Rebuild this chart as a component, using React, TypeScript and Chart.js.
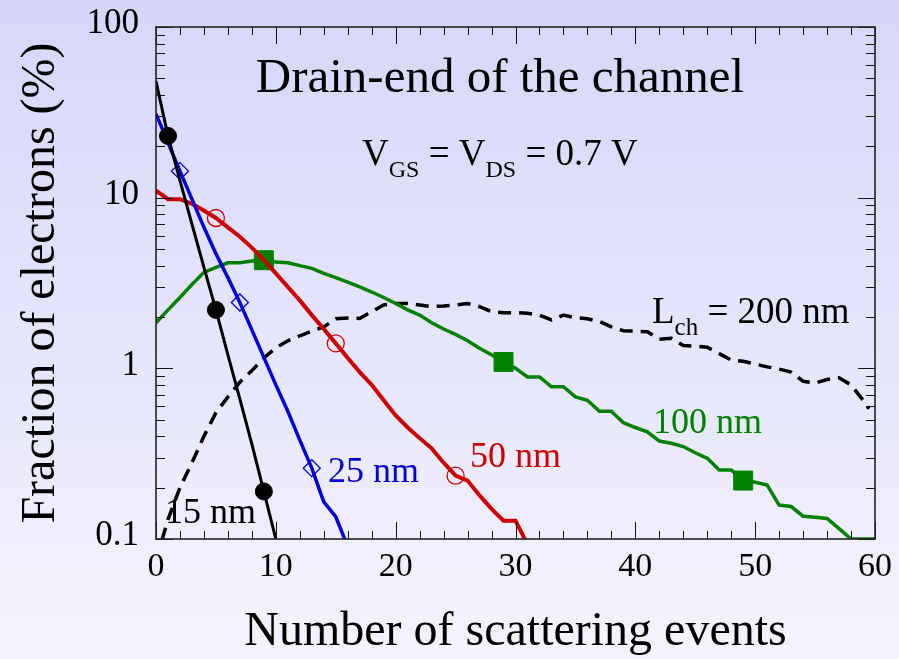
import React, { useEffect, useRef } from "react";
import { Chart, registerables } from "chart.js";

Chart.register(...registerables);

const SERIF = "'Liberation Serif', 'Times New Roman', serif";

// Fraction of electrons (%) versus number of scattering events, per channel length
const len15X = [0, 1, 2, 3, 4, 5, 6, 7, 8, 9, 10];
const len15Y = [48, 23, 12.6, 7.0, 3.9, 2.2, 1.2, 0.66, 0.36, 0.19, 0.1];
const len15Marks = [1, 5, 9];

const len25X = [0, 1, 2, 3, 4, 5, 6, 7, 8, 9, 10, 11, 12, 13, 14, 15, 16];
const len25Y = [31, 21, 14.3, 9.8, 6.7, 4.7, 3.4, 2.43, 1.68, 1.16, 0.8, 0.56, 0.38, 0.26, 0.165, 0.135, 0.09];
const len25Marks = [2, 7, 13];

const len50X = [0, 1, 2, 3, 4, 5, 6, 7, 8, 9, 10, 11, 12, 13, 14, 15, 16, 17, 18, 19, 20, 21, 22, 23, 24, 25, 26, 27, 28, 29, 30, 31];
const len50Y = [11, 9.8, 9.8, 9.2, 8.4, 7.6, 6.7, 5.9, 5.1, 4.3, 3.6, 3.0, 2.5, 2.05, 1.7, 1.4, 1.15, 0.95, 0.8, 0.65, 0.53, 0.45, 0.39, 0.34, 0.28, 0.235, 0.22, 0.18, 0.15, 0.128, 0.128, 0.093];
const len50Marks = [5, 15, 25];

const len100X = [0, 1, 2, 3, 4, 5, 6, 7, 8, 9, 10, 11, 12, 13, 14, 15, 16, 17, 18, 19, 20, 21, 22, 23, 24, 25, 26, 27, 28, 29, 30, 31, 32, 33, 34, 35, 36, 37, 38, 39, 40, 41, 42, 43, 44, 45, 46, 47, 48, 49, 50, 51, 52, 53, 54, 55, 56, 57, 58, 59, 60];
const len100Y = [1.85, 2.2, 2.6, 3.1, 3.65, 3.9, 4.15, 4.15, 4.25, 4.3, 4.2, 4.15, 4.0, 3.85, 3.6, 3.4, 3.2, 3.0, 2.8, 2.6, 2.4, 2.2, 2.05, 1.85, 1.7, 1.58, 1.45, 1.31, 1.2, 1.09, 1.0, 0.89, 0.89, 0.78, 0.78, 0.68, 0.65, 0.56, 0.56, 0.48, 0.45, 0.425, 0.375, 0.364, 0.348, 0.32, 0.297, 0.254, 0.254, 0.22, 0.215, 0.207, 0.158, 0.155, 0.136, 0.134, 0.132, 0.115, 0.1, 0.1, 0.1];
const len100Marks = [9, 29, 49];

const len200X = [0, 1, 2, 3, 4, 5, 6, 7, 8, 9, 10, 11, 12, 13, 14, 15, 16, 17, 18, 19, 20, 21, 22, 23, 24, 25, 26, 27, 28, 29, 30, 31, 32, 33, 34, 35, 36, 37, 38, 39, 40, 41, 42, 43, 44, 45, 46, 47, 48, 49, 50, 51, 52, 53, 54, 55, 56, 57, 58, 59, 59.5];
const len200Y = [0.075, 0.13, 0.2, 0.28, 0.4, 0.55, 0.68, 0.83, 0.97, 1.15, 1.32, 1.45, 1.55, 1.65, 1.75, 1.95, 1.97, 1.96, 2.15, 2.35, 2.4, 2.4, 2.35, 2.3, 2.32, 2.35, 2.4, 2.3, 2.15, 2.12, 2.12, 2.1, 2.05, 1.92, 2.05, 1.98, 1.95, 1.88, 1.75, 1.66, 1.65, 1.64, 1.48, 1.5, 1.36, 1.35, 1.33, 1.22, 1.12, 1.1, 1.06, 1.02, 0.99, 0.95, 0.84, 0.82, 0.86, 0.88, 0.8, 0.65, 0.58];

const xTickValues = [0, 10, 20, 30, 40, 50, 60];
const yTickValues = [0.1, 1, 10, 100];
const yTickLabels = ["0.1", "1", "10", "100"];

const BLACK = "#000000";
const BLUE = "#0000d8";
const RED = "#cc0000";
const GREEN = "#008000";

function series(
  xs: number[],
  ys: number[],
  color: string,
  width: number,
  marks: number[],
  style: string,
  radius: number,
  filled: boolean,
  dash: number[] = []
) {
  return {
    data: xs.map((x, i) => ({ x, y: ys[i] })),
    borderColor: color,
    borderWidth: width,
    borderDash: dash,
    tension: 0,
    fill: false,
    pointStyle: style,
    pointRadius: (c: any) => (c.raw && marks.includes(c.raw.x) ? radius : 0),
    pointHoverRadius: 0,
    pointBackgroundColor: filled ? color : "rgba(0,0,0,0)",
    pointBorderColor: color,
    pointBorderWidth: filled ? 1 : 1.3,
  };
}

function drawSub(
  ctx: CanvasRenderingContext2D,
  parts: { t: string; sub?: boolean }[],
  x: number,
  y: number,
  size: number,
  subSize: number,
  subDrop: number,
  color: string
) {
  ctx.fillStyle = color;
  ctx.textAlign = "left";
  ctx.textBaseline = "alphabetic";
  let cx = x;
  for (const p of parts) {
    ctx.font = `${p.sub ? subSize : size}px ${SERIF}`;
    ctx.fillText(p.t, cx, p.sub ? y + subDrop : y);
    cx += ctx.measureText(p.t).width;
  }
}

const decorations = {
  id: "decorations",
  beforeDraw(chart: any) {
    const { ctx, width, height } = chart;
    const g = ctx.createLinearGradient(0, 0, 0, height);
    g.addColorStop(0, "#d6d6fa");
    g.addColorStop(1, "#f4f4fe");
    ctx.save();
    ctx.fillStyle = g;
    ctx.fillRect(0, 0, width, height);
    ctx.restore();
  },
  beforeDatasetsDraw(chart: any) {
    const ctx: CanvasRenderingContext2D = chart.ctx;
    ctx.save();
    ctx.fillStyle = BLACK;
    ctx.font = `49px ${SERIF}`;
    ctx.textAlign = "center";
    ctx.textBaseline = "alphabetic";
    ctx.fillText("Drain-end of the channel", 500, 92);
    drawSub(
      ctx,
      [{ t: "V" }, { t: "GS", sub: true }, { t: " = V" }, { t: "DS", sub: true }, { t: " = 0.7 V" }],
      362, 165, 37, 24, 12, BLACK
    );
    drawSub(ctx, [{ t: "L" }, { t: "ch", sub: true }, { t: " = 200 nm" }], 652, 323, 37, 25, 12, BLACK);
    drawSub(ctx, [{ t: "100 nm" }], 653, 433, 36, 24, 0, GREEN);
    drawSub(ctx, [{ t: "50 nm" }], 470, 467, 36, 24, 0, RED);
    drawSub(ctx, [{ t: "25 nm" }], 328, 482, 36, 24, 0, BLUE);
    drawSub(ctx, [{ t: "15 nm" }], 165, 523, 36, 24, 0, BLACK);
    ctx.restore();
  },
  afterDatasetsDraw(chart: any) {
    const ctx: CanvasRenderingContext2D = chart.ctx;
    const { left, right, top, bottom } = chart.chartArea;
    const xs = chart.scales.x;
    const ys = chart.scales.y;
    ctx.save();
    ctx.strokeStyle = "#111";
    ctx.lineWidth = 1;
    ctx.beginPath();
    for (let v = 0; v <= 60; v += 2) {
      const px = Math.round(xs.getPixelForValue(v)) + 0.5;
      const len = v % 10 === 0 ? 17 : 8;
      ctx.moveTo(px, bottom);
      ctx.lineTo(px, bottom - len);
      ctx.moveTo(px, top);
      ctx.lineTo(px, top + len);
    }
    for (let d = -1; d <= 2; d++) {
      for (let k = 1; k <= 9; k++) {
        const v = k * Math.pow(10, d);
        if (v > 100.0001) break;
        const py = Math.round(ys.getPixelForValue(v)) + 0.5;
        const len = k === 1 ? 17 : 9;
        ctx.moveTo(left, py);
        ctx.lineTo(left + len, py);
        ctx.moveTo(right, py);
        ctx.lineTo(right - len, py);
      }
    }
    ctx.stroke();
    ctx.strokeStyle = "#222";
    ctx.lineWidth = 1.6;
    ctx.strokeRect(left, top, right - left, bottom - top);
    ctx.restore();
  },
};

export default function App() {
  const canvasRef = useRef<HTMLCanvasElement | null>(null);

  useEffect(() => {
    if (!canvasRef.current) return;
    const chart = new Chart(canvasRef.current, {
      type: "line",
      data: {
        datasets: [
          series(len15X, len15Y, BLACK, 3, len15Marks, "circle", 8.5, true),
          series(len25X, len25Y, BLUE, 3.5, len25Marks, "rectRot", 8.5, false),
          series(len50X, len50Y, RED, 4, len50Marks, "circle", 8.5, false),
          series(len100X, len100Y, GREEN, 3.5, len100Marks, "rect", 13.4, true),
          series(len200X, len200Y, BLACK, 3.5, [], "circle", 0, true, [13, 8]),
        ] as any,
      },
      options: {
        animation: false,
        responsive: true,
        maintainAspectRatio: false,
        devicePixelRatio: 1,
        events: [],
        layout: { padding: { left: 0, top: 27, right: 24, bottom: 0 } },
        plugins: {
          legend: { display: false },
          tooltip: { enabled: false },
        },
        scales: {
          x: {
            type: "linear",
            position: "bottom",
            min: 0,
            max: 60,
            grid: { display: false, drawTicks: false },
            border: { display: false },
            afterBuildTicks: (s: any) => {
              s.ticks = xTickValues.map((v) => ({ value: v }));
            },
            afterFit: (s: any) => {
              s.height = 120;
              s.paddingLeft = 0;
              s.paddingRight = 0;
            },
            ticks: {
              autoSkip: false,
              maxRotation: 0,
              padding: 8,
              color: BLACK,
              font: { family: SERIF, size: 34 },
            },
            title: {
              display: true,
              text: "Number of scattering events",
              color: BLACK,
              font: { family: SERIF, size: 48, lineHeight: 1 },
              padding: { top: 0, bottom: 3 },
            },
          },
          y: {
            type: "logarithmic",
            position: "left",
            min: 0.1,
            max: 100,
            grid: { display: false, drawTicks: false },
            border: { display: false },
            afterBuildTicks: (s: any) => {
              s.ticks = yTickValues.map((v) => ({ value: v }));
            },
            afterFit: (s: any) => {
              s.width = 156;
              s.paddingTop = 0;
              s.paddingBottom = 0;
            },
            ticks: {
              padding: 17,
              labelOffset: -3,
              color: BLACK,
              font: { family: SERIF, size: 35 },
              callback: (v: any) => {
                const i = yTickValues.findIndex((t) => Math.abs(t - Number(v)) < 1e-9);
                return i >= 0 ? yTickLabels[i] : "";
              },
            },
            title: {
              display: true,
              text: "Fraction of electrons (%)",
              color: BLACK,
              font: { family: SERIF, size: 48, lineHeight: 1 },
              padding: { top: 17, bottom: 0 },
            },
          },
        },
      },
      plugins: [decorations],
    });
    return () => chart.destroy();
  }, []);

  return (
    <div style={{ position: "fixed", left: 0, top: 0, width: 899, height: 659 }}>
      <canvas ref={canvasRef} />
    </div>
  );
}
